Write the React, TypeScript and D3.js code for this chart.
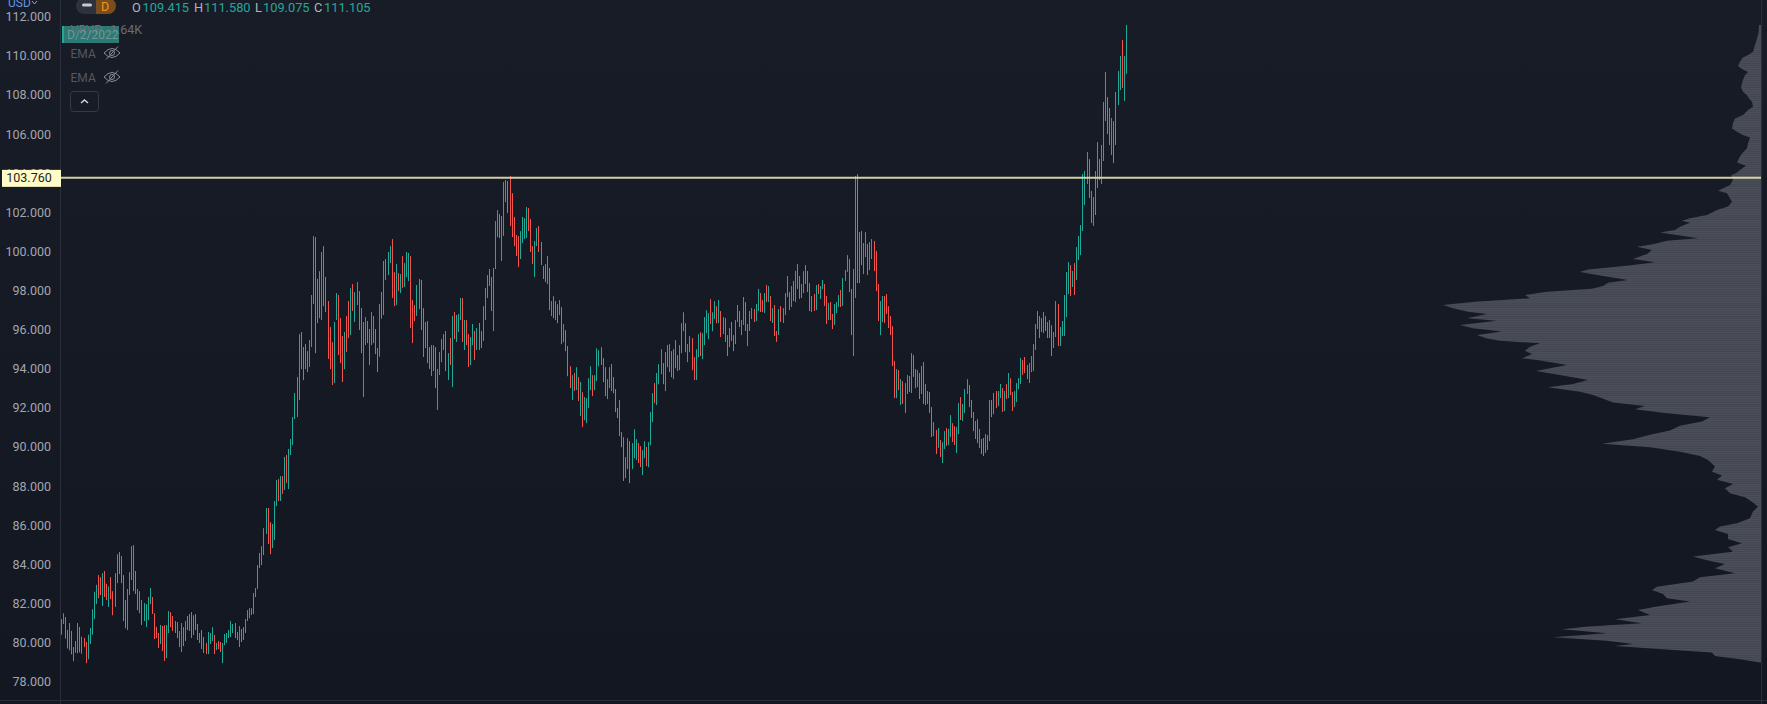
//App.tsx
import React, { useEffect, useRef } from "react";
import * as d3 from "d3";

// price ticks on the left axis
const tickPrices = [78, 80, 82, 84, 86, 88, 90, 92, 94, 96, 98, 100, 102, 104, 106, 108, 110, 112];

// daily bars, oldest first
const barHighs = [
  81.2,81.5,81.3,80.65,81.0,80.6,79.77,80.08,81.0,80.8,
  80.3,80.23,80.03,80.4,80.75,81.7,82.6,82.95,83.45,83.35,
  83.55,83.66,83.0,82.87,83.35,82.63,83.55,84.52,84.63,84.42,
  83.45,82.17,82.74,83.6,84.93,84.98,83.66,82.74,82.63,82.17,
  82.02,81.97,82.33,82.79,82.33,81.5,80.8,80.49,80.9,80.85,
  80.88,80.9,81.61,81.56,81.36,81.1,81.05,80.59,81.0,80.79,
  81.1,81.36,81.46,81.56,81.4,81.46,80.95,80.49,80.64,80.28,
  79.98,80.54,80.49,80.79,80.39,79.98,80.08,80.03,79.98,80.44,
  80.49,80.64,81.1,80.95,81.0,80.54,80.84,80.69,80.79,81.2,
  81.66,81.76,81.76,82.53,82.79,83.96,84.58,84.93,85.85,86.88,
  86.88,86.16,86.06,87.23,88.31,88.36,88.51,88.51,89.49,89.59,
  89.9,90.41,91.53,92.76,93.58,95.77,95.88,95.11,95.26,94.9,
  95.47,97.77,100.78,100.73,98.6,98.99,99.97,100.27,98.69,97.46,
  96.13,95.36,96.39,97.87,97.77,96.59,95.67,95.88,96.69,97.46,
  98.12,98.33,97.92,98.43,97.97,97.1,96.39,96.64,96.44,96.03,
  96.9,96.69,96.03,95.06,97.31,97.92,99.51,99.61,99.97,100.27,
  100.63,98.94,99.35,98.89,98.84,99.76,99.4,99.97,99.92,99.76,
  97.51,97.26,98.28,98.59,98.54,97.1,96.39,96.44,95.11,95.21,
  95.21,95.11,93.99,94.86,95.52,95.77,95.93,94.8,95.57,96.7,
  96.9,96.75,96.8,97.62,97.62,96.49,96.49,95.77,95.62,96.29,
  95.93,96.08,96.34,95.93,97.2,98.13,98.79,99.1,98.69,99.15,
  101.55,102.11,101.91,101.81,103.55,103.65,103.6,103.85,102.98,101.76,
  100.84,100.78,101.04,101.76,101.7,102.27,102.22,101.65,100.27,100.53,
  101.19,101.3,100.48,99.25,99.35,99.76,99.15,97.46,97.71,97.46,
  97.3,97.51,97.15,96.28,95.97,95.16,94.13,93.67,93.78,94.08,
  93.57,93.32,92.8,92.55,92.5,93.52,94.13,93.67,93.67,95.05,
  94.95,95.1,94.54,94.08,93.47,94.08,94.24,93.57,92.96,91.99,
  92.4,90.76,90.5,89.48,90.45,90.3,90.2,90.91,90.4,90.2,
  90.04,89.84,90.3,90.0,90.25,91.78,92.75,93.27,93.78,94.24,
  95.0,94.29,94.85,95.21,95.26,94.9,95.0,95.46,94.7,95.21,
  96.33,96.89,96.33,95.26,95.67,95.57,94.59,95.0,95.77,95.87,
  95.82,96.64,96.99,96.84,97.56,96.89,97.46,97.2,97.51,96.95,
  96.64,96.59,95.72,96.08,96.39,95.72,96.49,97.26,96.95,96.49,
  97.67,97.41,96.29,96.95,97.1,97.05,97.31,98.08,97.87,97.51,
  97.87,98.28,98.23,97.72,97.1,97.26,95.93,97.05,97.2,97.1,
  97.87,98.74,97.92,98.23,98.49,99.0,99.35,98.74,98.33,98.99,
  99.3,99.0,98.38,97.72,97.82,98.28,98.33,98.23,98.54,98.33,
  97.72,97.36,97.41,96.8,97.31,97.41,97.77,98.03,98.64,99.05,
  99.81,99.61,98.08,99.1,103.85,103.95,100.99,101.04,100.43,100.99,
  100.38,100.48,100.63,100.53,100.02,98.33,97.46,97.72,97.72,97.82,
  97.2,96.7,96.18,94.4,93.98,93.93,93.47,93.37,93.27,93.68,
  93.63,94.8,94.7,93.98,93.93,93.78,94.14,94.34,93.22,92.86,
  92.81,92.04,91.27,90.87,90.97,90.36,90.25,90.81,90.97,90.92,
  91.63,91.22,91.07,91.02,92.25,92.55,92.2,92.96,93.47,93.17,
  92.4,91.79,91.33,91.43,90.92,90.41,90.46,90.66,90.61,92.4,
  92.4,92.76,92.86,92.86,93.22,93.01,92.86,93.22,93.78,93.52,
  92.81,92.86,93.27,93.52,94.55,94.44,94.6,94.19,94.29,94.65,
  95.26,96.28,96.95,96.69,96.59,96.9,96.69,96.39,96.49,96.23,
  95.88,97.46,97.31,96.13,96.44,97.77,98.94,99.45,99.3,99.0,
  99.4,100.22,100.79,101.35,103.96,104.11,105.08,104.72,103.09,102.78,
  104.11,105.59,104.72,105.44,107.64,109.17,107.89,107.33,106.82,106.66,
  108.15,109.22,109.99,110.81,109.99,111.58,
];

const barLows = [
  80.4,80.95,80.2,79.7,79.6,79.4,79.05,79.48,79.45,79.5,
  79.43,79.77,78.95,79.15,79.93,80.4,81.2,81.97,82.27,82.43,
  81.87,82.33,82.17,81.82,82.22,81.4,81.82,83.04,83.5,83.04,
  81.1,80.73,80.64,82.43,83.2,82.63,82.48,81.66,81.5,80.9,
  81.1,80.8,81.15,81.97,81.46,80.18,80.23,79.72,79.93,79.57,
  79.06,79.21,80.49,80.79,80.59,80.49,80.23,79.77,79.52,79.82,
  80.08,80.64,80.59,80.23,80.39,80.64,80.13,79.98,79.67,79.47,
  79.41,79.41,79.93,80.08,79.41,79.62,79.67,79.52,78.95,79.87,
  79.98,80.23,80.28,80.49,80.23,80.13,79.77,80.03,80.13,80.49,
  81.1,81.25,81.41,81.46,82.33,82.74,83.81,83.96,84.47,85.55,
  85.04,84.52,84.83,85.24,86.98,87.24,87.24,87.6,87.8,88.16,
  87.85,89.59,90.1,91.43,91.53,92.4,93.98,93.42,93.98,93.83,
  94.09,95.11,97.31,94.8,96.34,96.59,96.49,97.2,96.9,94.5,
  93.98,93.17,93.27,96.49,94.7,94.29,93.32,93.98,94.85,95.57,
  95.72,96.95,96.39,97.26,95.98,94.8,92.55,95.21,95.31,94.19,
  95.21,95.31,94.75,93.83,94.62,96.56,96.75,98.54,98.79,99.4,
  97.62,97.2,97.26,97.97,97.87,98.13,98.18,98.69,98.48,96.08,
  95.31,96.44,96.7,97.05,95.98,94.6,95.06,94.29,93.99,93.63,
  93.88,93.01,91.89,93.68,94.34,94.96,93.88,93.42,94.19,93.07,
  95.52,95.37,95.88,96.49,95.37,94.96,95.21,94.09,94.19,95.21,
  94.45,94.96,94.96,95.06,95.42,96.49,97.62,98.23,96.95,95.93,
  99.1,100.73,100.68,99.51,100.79,102.52,101.96,101.3,100.73,100.27,
  99.76,99.2,99.61,100.43,100.63,100.68,101.04,99.97,99.35,98.69,
  100.27,99.97,99.3,98.59,98.43,98.33,97.0,96.69,96.59,96.49,
  96.33,96.74,95.26,95.36,94.9,93.62,93.01,92.4,92.86,92.91,
  92.35,91.58,91.02,91.37,91.22,91.99,92.91,92.6,92.91,93.37,
  94.13,94.19,93.32,92.6,92.45,93.01,92.86,92.75,91.78,91.48,
  90.56,89.99,88.26,88.41,88.87,88.15,88.87,89.43,89.33,89.18,
  88.97,88.56,89.43,89.02,88.97,90.09,91.27,92.24,92.14,93.21,
  93.72,93.21,92.86,94.08,93.83,93.57,93.47,94.03,93.88,93.93,
  94.8,95.92,94.85,94.34,94.85,93.93,93.42,93.42,94.59,94.65,
  94.49,95.21,95.82,95.51,96.28,95.92,96.54,96.33,96.33,95.62,
  95.78,95.37,94.65,95.11,95.42,94.9,95.26,96.39,96.13,95.72,
  96.24,95.93,95.16,95.93,96.54,96.39,96.44,96.95,96.9,96.9,
  96.85,97.41,97.41,96.44,96.34,95.67,95.37,95.72,96.39,96.34,
  96.75,97.67,97.0,97.16,97.46,97.41,98.08,97.57,97.62,97.87,
  98.33,97.92,96.95,96.9,96.95,97.0,97.82,97.57,98.08,97.21,
  96.29,96.49,96.49,96.03,96.24,96.85,97.16,97.16,97.21,98.49,
  98.95,97.92,95.72,94.65,97.62,98.38,98.38,99.3,98.84,99.71,
  98.79,99.05,99.61,98.99,97.97,96.44,95.72,96.39,96.34,96.8,
  96.08,95.72,94.14,92.5,92.5,92.91,92.14,92.2,91.74,92.71,
  92.81,92.76,93.58,93.01,93.06,92.45,92.71,92.2,92.14,92.2,
  91.74,90.51,90.56,89.64,89.95,89.49,89.18,89.9,90.05,90.1,
  90.51,90.25,90.1,89.69,90.66,91.38,91.33,91.74,92.71,92.04,
  91.48,90.81,90.41,90.2,89.95,89.64,89.54,89.69,89.84,90.3,
  91.53,91.68,91.99,92.09,92.5,91.79,91.84,92.45,92.5,92.66,
  91.84,92.04,92.3,92.96,93.22,93.68,93.78,93.47,93.27,93.83,
  93.88,94.96,96.03,95.57,95.88,95.82,95.93,95.57,95.57,94.65,
  95.06,95.62,95.16,95.16,95.67,95.67,96.64,97.82,97.72,98.18,
  97.77,98.54,99.56,99.81,101.04,102.37,103.44,102.73,101.45,101.3,
  101.86,103.24,103.65,103.44,104.62,106.66,106.0,105.44,104.93,104.52,
  105.44,107.48,108.25,108.35,107.69,109.08,
];

// u = closed up, d = closed down
const barDirs = `
  uuddu duuud udduu uuudd uddud duudd dduuu dddud uuuud dddud duudd dduud
  ududu ddudd duuud udduu uuuud duduu uuuuu uuuuu dduuu dudud uuuuu udddd
  uuudd duddd dduud ddudd uduud duudd udddu duduu ddudu duuud ddudd duddu
  uduuu ududu duuud udduu duddu uuddu uuduu udddd dduuu udddu udddd ududu
  dudud ddudu duduu uuduu udddu udddd ddduu duuud duudu uuduu ududu duduu
  udduu dduud uuuud uudud dddud duudu uduuu duudd ududu ddudu uudud udduu
  dddud uduud duddu uuduu udduu duduu duudd duudd ddddu duduu duddu dudud
  ddudu duudu udduu duuud ddudu dduuu duduu dudud duuuu ddduu uuudd uddud
  uuduu uuudu duuuu uuddu uuduu uddud uuudu u`
  .replace(/\s/g, "")
  .split("");

const profilePrices = [
  111.57,111.15,110.72,110.21,110.04,109.92,109.7,109.48,109.32,109.17,109.02,108.76,108.39,108.16,107.99,107.82,
  107.65,107.4,107.23,106.97,106.8,106.55,106.29,106.12,105.95,105.83,105.52,105.27,105.01,104.76,104.55,104.38,
  104.16,103.99,103.9,103.65,103.39,103.1,102.97,102.71,102.54,102.29,102.12,101.86,101.69,101.57,101.47,101.26,
  101.09,100.97,100.84,100.67,100.55,100.36,100.24,100.07,99.87,99.61,99.44,99.27,99.08,98.95,98.77,98.54,
  98.4,98.23,98.09,97.94,97.77,97.6,97.43,97.26,97.09,96.92,96.8,96.58,96.46,96.24,96.07,95.9,
  95.72,95.55,95.43,95.3,95.13,94.92,94.75,94.53,94.45,94.19,94.02,93.89,93.68,93.43,93.22,93.05,
  92.83,92.66,92.49,92.27,92.1,91.93,91.72,91.52,91.3,91.08,90.84,90.62,90.39,90.16,89.99,89.76,
  89.54,89.34,89.0,88.74,88.54,88.32,88.11,87.89,87.63,87.43,87.16,86.95,86.7,86.36,86.1,85.93,
  85.76,85.55,85.3,85.08,84.87,84.65,84.4,84.17,84.02,83.8,83.54,83.34,83.12,82.86,82.69,82.49,
  82.27,82.1,81.84,81.67,81.41,81.19,80.99,80.82,80.68,80.48,80.27,80.1,79.93,79.83,79.66,79.49,
  79.32,79.15,78.98,
];
const profileVolumes = [
  2,2.5,5,8,13,18,21,23,19,13,16,18,20,18,14,12,
  9,8,13,18,26,28,29,24,18,11,13,14,19,22,24,15,
  21,25,30,28,31,43,34,31,29,33,44,54,71,79,71,81,
  86,101,84,63,94,108,124,109,114,128,106,134,173,181,161,133,
  153,158,169,214,236,231,286,318,308,293,274,294,264,301,288,259,
  284,274,261,221,231,236,229,239,224,194,211,225,201,173,188,213,
  181,168,159,148,116,126,94,51,59,81,91,111,128,159,111,81,
  61,53,46,49,39,44,28,36,31,16,8,3,8,11,24,41,
  46,33,33,19,33,28,68,51,36,46,26,61,68,104,109,98,
  94,71,104,123,111,146,119,173,199,154,208,154,128,146,98,49,
  46,21,1,
];

const levelPrice = 103.76;
const ohlcLabels = ["O", "H", "L", "C"];
const ohlcValues = ["109.415", "111.580", "109.075", "111.105"];

const width = 1767;
const height = 704;
const axisX = 60.5;
const profileRight = 1761;
const font = "Roboto, sans-serif";

const App: React.FC = () => {
  const svgRef = useRef<SVGSVGElement | null>(null);

  useEffect(() => {
    const svg = d3.select(svgRef.current);
    svg.selectAll("*").remove();

    const y = d3.scaleLinear().domain([78, 112]).range([681.7, 16.7]);
    const x = d3
      .scalePoint<number>()
      .domain(barHighs.map((_, i) => i))
      .range([61.3, 1126.3]);
    const vol = d3.scaleLinear().domain([0, 318]).range([profileRight, 1443]);

    const defs = svg.append("defs");
    const bg = defs
      .append("linearGradient")
      .attr("id", "bg")
      .attr("x1", 0)
      .attr("x2", 0)
      .attr("y1", 0)
      .attr("y2", 1);
    bg.append("stop").attr("offset", "0%").attr("stop-color", "#181c27");
    bg.append("stop").attr("offset", "100%").attr("stop-color", "#131722");

    // rows of the profile show as thin stripes
    const stripes = defs
      .append("pattern")
      .attr("id", "rows")
      .attr("patternUnits", "userSpaceOnUse")
      .attr("width", 4)
      .attr("height", 2.2);
    stripes.append("rect").attr("width", 4).attr("height", 2.2).attr("fill", "#41454f");
    stripes.append("rect").attr("width", 4).attr("height", 1.2).attr("fill", "#4d5059");

    svg.append("rect").attr("width", width).attr("height", height).attr("fill", "url(#bg)");

    // volume profile
    const profile = d3
      .area<number>()
      .y((d) => y(d))
      .x0(profileRight)
      .x1((_, i) => vol(profileVolumes[i]));
    svg.append("path").attr("d", profile(profilePrices)).attr("fill", "url(#rows)");

    // frame lines
    const frame = [
      [axisX, 0, axisX, height],
      [1761.5, 0, 1761.5, height],
      [0, 700.5, width, 700.5],
    ];
    svg
      .append("g")
      .selectAll("line")
      .data(frame)
      .join("line")
      .attr("x1", (d) => d[0])
      .attr("y1", (d) => d[1])
      .attr("x2", (d) => d[2])
      .attr("y2", (d) => d[3])
      .attr("stroke", "#2a2e39");

    // price axis
    const axis = svg
      .append("g")
      .attr("transform", "translate(51,0)")
      .call(d3.axisLeft(y).tickValues(tickPrices).tickSize(0).tickPadding(0).tickFormat(d3.format(".3f")));
    axis.select(".domain").remove();
    axis
      .selectAll("text")
      .attr("fill", "#a3a6af")
      .style("font-family", font)
      .style("font-size", "12.5px");

    // high-low bars
    svg
      .append("g")
      .selectAll("line")
      .data(barHighs)
      .join("line")
      .attr("x1", (_, i) => Math.floor(x(i) as number) + 0.5)
      .attr("x2", (_, i) => Math.floor(x(i) as number) + 0.5)
      .attr("y1", (d) => y(d))
      .attr("y2", (_, i) => y(barLows[i]))
      .attr("stroke", (_, i) => (barDirs[i] === "u" ? "#20a998" : "#f5524e"))
      .attr("stroke-width", 1);

    // horizontal level
    svg
      .append("line")
      .attr("x1", axisX)
      .attr("x2", profileRight)
      .attr("y1", y(levelPrice))
      .attr("y2", y(levelPrice))
      .attr("stroke", "#ddd9ae")
      .attr("stroke-opacity", 0.95)
      .attr("stroke-width", 2);
    svg
      .append("rect")
      .attr("x", 2)
      .attr("y", y(levelPrice) - 8)
      .attr("width", 59)
      .attr("height", 17)
      .attr("fill", "#fffcc8");
    svg
      .append("text")
      .attr("x", 29)
      .attr("y", y(levelPrice) + 0.5)
      .attr("text-anchor", "middle")
      .attr("dominant-baseline", "middle")
      .attr("fill", "#1b1f2a")
      .style("font-family", font)
      .style("font-size", "12.5px")
      .text(d3.format(".3f")(levelPrice));

    // top left header
    const top = svg.append("g").style("font-family", font);
    top
      .append("text")
      .attr("x", 8)
      .attr("y", 7)
      .attr("fill", "#5f97e0")
      .style("font-size", "12px")
      .text("USD");
    top
      .append("path")
      .attr("d", "M32 1 L34.5 4 L37 1")
      .attr("fill", "none")
      .attr("stroke", "#a3a6af");
    top
      .append("path")
      .attr("d", "M96 -2 H84 A8 8 0 0 0 76 6 A8 8 0 0 0 84 14 H96 Z")
      .attr("fill", "#2e323d");
    top
      .append("path")
      .attr("d", "M96 -2 H108 A8 8 0 0 1 116 6 A8 8 0 0 1 108 14 H96 Z")
      .attr("fill", "#7a4d1c");
    top
      .append("rect")
      .attr("x", 82)
      .attr("y", 3.5)
      .attr("width", 10)
      .attr("height", 3)
      .attr("rx", 1.5)
      .attr("fill", "#c8cad0");
    top
      .append("text")
      .attr("x", 105)
      .attr("y", 11)
      .attr("text-anchor", "middle")
      .attr("fill", "#f7931a")
      .style("font-size", "12.5px")
      .text("D");

    const ohlcX = [132, 194, 255, 314];
    const ohlcValueX = [142.5, 204, 263, 324];
    ohlcLabels.forEach((label, i) => {
      top
        .append("text")
        .attr("x", ohlcX[i])
        .attr("y", 11.5)
        .attr("fill", "#b2b5be")
        .style("font-size", "12.8px")
        .text(label);
      top
        .append("text")
        .attr("x", ohlcValueX[i])
        .attr("y", 11.5)
        .attr("fill", "#26a69a")
        .style("font-size", "12.8px")
        .text(ohlcValues[i]);
    });

    // indicator legend
    top
      .append("rect")
      .attr("x", 62)
      .attr("y", 26)
      .attr("width", 57)
      .attr("height", 17)
      .attr("fill", "#2b7a73");
    top.append("rect").attr("x", 62).attr("y", 26).attr("width", 2).attr("height", 17).attr("fill", "#26a69a");
    top
      .append("text")
      .attr("x", 70.5)
      .attr("y", 34)
      .attr("fill", "#6a6d78")
      .style("font-size", "12.5px")
      .text("VRVP");
    top
      .append("text")
      .attr("x", 110)
      .attr("y", 34)
      .attr("fill", "#6a6d78")
      .style("font-size", "12.5px")
      .text("1.64K");
    top
      .append("text")
      .attr("x", 67)
      .attr("y", 39)
      .attr("fill", "#9aa8ad")
      .attr("fill-opacity", 0.65)
      .style("font-size", "12px")
      .text("D/2/2022");

    [53, 77].forEach((cy) => {
      top
        .append("text")
        .attr("x", 70.5)
        .attr("y", cy + 4.5)
        .attr("fill", "#55585f")
        .style("font-size", "12px")
        .text("EMA");
      top
        .append("path")
        .attr("d", `M104 ${cy} Q112 ${cy - 9} 120 ${cy} Q112 ${cy + 9} 104 ${cy} Z M106 ${cy + 6.5} L118 ${cy - 6.5}`)
        .attr("fill", "none")
        .attr("stroke", "#8a8d96");
      top
        .append("circle")
        .attr("cx", 112)
        .attr("cy", cy)
        .attr("r", 2.5)
        .attr("fill", "none")
        .attr("stroke", "#8a8d96");
    });

    top
      .append("rect")
      .attr("x", 70.5)
      .attr("y", 91.5)
      .attr("width", 28)
      .attr("height", 20)
      .attr("rx", 3)
      .attr("fill", "none")
      .attr("stroke", "#363a45");
    top
      .append("path")
      .attr("d", "M81 103 L84.5 100 L88 103")
      .attr("fill", "none")
      .attr("stroke", "#d1d4dc")
      .attr("stroke-width", 1.5);
  }, []);

  return (
    <svg
      ref={svgRef}
      width={width}
      height={height}
      style={{ position: "absolute", left: 0, top: 0, display: "block" }}
    />
  );
};

export default App;
